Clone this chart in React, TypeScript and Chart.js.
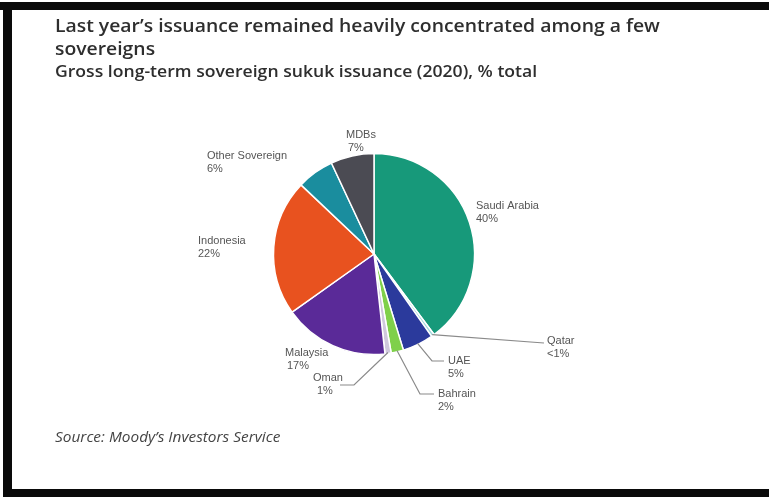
import React, { useEffect, useRef } from "react";
import { Chart, registerables } from "chart.js";

Chart.register(...registerables);

const categories = [
  "Saudi Arabia",
  "Qatar",
  "UAE",
  "Bahrain",
  "Oman",
  "Malaysia",
  "Indonesia",
  "Other Sovereign",
  "MDBs",
];
const shares = [40, 0.5, 5, 2, 1, 17, 22, 6, 7];
const shareLabels = ["40%", "<1%", "5%", "2%", "1%", "17%", "22%", "6%", "7%"];
const sliceColors = [
  "#17997a",
  "#9fd8dc",
  "#2b3a9c",
  "#7fd04a",
  "#cfc8dc",
  "#5a2a98",
  "#e8521f",
  "#1a8d9e",
  "#4b4b53",
];

const titleText = "Last year\u2019s issuance remained heavily concentrated among a few sovereigns";
const subtitleText = "Gross long-term sovereign sukuk issuance (2020), % total";
const sourceText = "Source: Moody\u2019s Investors Service";

// label layout relative to pie centre (dx, dy of first line centre); leader bends
type LabelLayout = {
  dx: number;
  dy: number;
  dx2?: number;
  leader?: { x: number; y: number }[];
};
const labelLayout: LabelLayout[] = [
  { dx: 102, dy: -48 },
  { dx: 173, dy: 87, leader: [{ x: 170, y: 89 }] },
  { dx: 74, dy: 107, leader: [{ x: 58, y: 107 }, { x: 70, y: 107 }] },
  { dx: 64, dy: 140, leader: [{ x: 46, y: 140 }, { x: 60, y: 140 }] },
  { dx: -61, dy: 124, dx2: -57, leader: [{ x: -20, y: 131 }, { x: -34, y: 131 }] },
  { dx: -89, dy: 99, dx2: -87 },
  { dx: -176, dy: -13 },
  { dx: -167, dy: -98 },
  { dx: -28, dy: -119, dx2: -26 },
];

const labelPlugin = {
  id: "sliceLabels",
  afterDraw(chart: any) {
    const ctx = chart.ctx;
    const meta = chart.getDatasetMeta(0);
    ctx.save();
    ctx.font = "11px 'Liberation Sans', Arial, sans-serif";
    ctx.textBaseline = "middle";
    ctx.textAlign = "left";
    meta.data.forEach((arc: any, i: number) => {
      const p = arc.getProps(["x", "y", "startAngle", "endAngle", "outerRadius"], true);
      const lay = labelLayout[i];
      if (lay.leader) {
        const mid = (p.startAngle + p.endAngle) / 2;
        const sx = p.x + Math.cos(mid) * (p.outerRadius - 1);
        const sy = p.y + Math.sin(mid) * (p.outerRadius - 1);
        ctx.strokeStyle = "#8a8a8a";
        ctx.lineWidth = 1.2;
        ctx.beginPath();
        ctx.moveTo(sx, sy);
        lay.leader.forEach((pt) => ctx.lineTo(p.x + pt.x, p.y + pt.y));
        ctx.stroke();
      }
      ctx.fillStyle = "#555555";
      ctx.fillText(categories[i], p.x + lay.dx, p.y + lay.dy);
      ctx.fillText(shareLabels[i], p.x + (lay.dx2 ?? lay.dx), p.y + lay.dy + 13);
    });
    ctx.restore();
  },
};

export default function App() {
  const ref = useRef<HTMLCanvasElement | null>(null);
  useEffect(() => {
    if (!ref.current) return;
    const chart = new Chart(ref.current, {
      type: "pie",
      data: {
        labels: categories,
        datasets: [
          {
            data: shares,
            backgroundColor: sliceColors,
            borderColor: "#ffffff",
            borderWidth: 1.5,
          },
        ],
      },
      options: {
        responsive: false,
        animation: false,
        radius: 100.5,
        layout: { padding: { top: 154, bottom: 143, left: 274, right: 295 } },
        plugins: {
          legend: { display: false },
          tooltip: { enabled: false },
          title: { display: false },
        },
      } as any,
      plugins: [labelPlugin],
    });
    return () => chart.destroy();
  }, []);

  const stretch = { transform: "scaleX(1.1)", transformOrigin: "0 0" };

  return (
    <div
      style={{
        position: "fixed",
        left: 0,
        top: 0,
        width: 769,
        height: 497,
        background: "#ffffff",
        overflow: "hidden",
      }}
    >
      <canvas ref={ref} width={769} height={497} style={{ position: "absolute", left: 0, top: 0 }} />
      <div style={{ position: "absolute", left: 0, top: 2, width: 769, height: 8, background: "#0a0a0a" }} />
      <div style={{ position: "absolute", left: 3, top: 2, width: 9, height: 495, background: "#0a0a0a" }} />
      <div style={{ position: "absolute", left: 3, top: 489, width: 766, height: 8, background: "#0a0a0a" }} />
      <div
        style={{
          position: "absolute",
          left: 55,
          top: 14,
          width: 580,
          fontFamily: "'Open Sans', sans-serif",
          fontWeight: 600,
          fontSize: 17.6,
          lineHeight: "23px",
          color: "#2e2e2e",
          ...stretch,
        }}
      >
        {titleText}
      </div>
      <div
        style={{
          position: "absolute",
          left: 55,
          top: 60,
          fontFamily: "'Open Sans', sans-serif",
          fontWeight: 600,
          fontSize: 16,
          lineHeight: "23px",
          color: "#2e2e2e",
          whiteSpace: "nowrap",
          ...stretch,
        }}
      >
        {subtitleText}
      </div>
      <div
        style={{
          position: "absolute",
          left: 55,
          top: 427,
          fontFamily: "'Open Sans', sans-serif",
          fontStyle: "italic",
          fontSize: 14,
          lineHeight: "20px",
          color: "#444444",
          whiteSpace: "nowrap",
          ...stretch,
        }}
      >
        {sourceText}
      </div>
    </div>
  );
}
